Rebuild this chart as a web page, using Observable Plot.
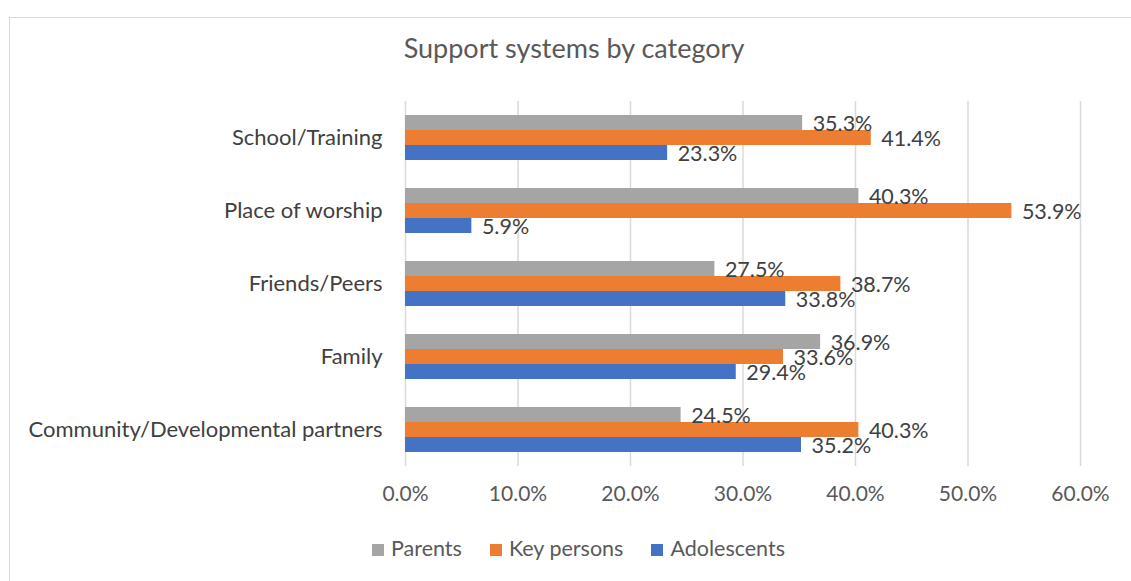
<!DOCTYPE html>
<html>
<head>
<meta charset="utf-8">
<script src="https://cdn.jsdelivr.net/npm/d3@7"></script>
<script src="https://cdn.jsdelivr.net/npm/@observablehq/plot@0.6"></script>
<style>
  html, body { margin: 0; padding: 0; background: #fff; }
  #wrap { position: relative; width: 1131px; height: 581px; overflow: hidden; font-family: Lato, "Open Sans", sans-serif; }
  #frame { position: absolute; left: 9px; top: 17px; width: 1140px; height: 600px; border: 1px solid #d9d9d9; box-sizing: border-box; }
  #title { position: absolute; left: 0; width: 1148px; top: 31px; text-align: center; font-size: 27px; color: #595959; }
  #chart { position: absolute; left: 0; top: 0; }
  #legend { position: absolute; left: 0; width: 1157px; top: 535px; display: flex; justify-content: center; gap: 28px; font-size: 21.5px; color: #595959; }
  #legend span.sw { display: inline-block; width: 12px; height: 12px; margin-right: 7px; vertical-align: middle; position: relative; top: -1px; }
</style>
</head>
<body>
<div id="wrap">
  <div id="frame"></div>
  <div id="title">Support systems by category</div>
  <div id="chart"></div>
  <div id="legend"></div>
</div>
<script>
// Support sources, listed top to bottom
const categories = ["School/Training", "Place of worship", "Friends/Peers", "Family", "Community/Developmental partners"];
// Respondent groups, in bar order within each category
const series = ["Parents", "Key persons", "Adolescents"];
const seriesColors = ["#a5a5a5", "#ed7d31", "#4472c4"];
// Percentages per category
const parents = [35.3, 40.3, 27.5, 36.9, 24.5];
const keyPersons = [41.4, 53.9, 38.7, 33.6, 40.3];
const adolescents = [23.3, 5.9, 33.8, 29.4, 35.2];
const xTicks = [0, 10, 20, 30, 40, 50, 60];

const valuesBySeries = [parents, keyPersons, adolescents];
const data = [];
categories.forEach((c, i) => {
  series.forEach((s, j) => {
    data.push({category: c, series: s, value: valuesBySeries[j][i]});
  });
});

const pct = d => d.toFixed(1) + "%";

const chart = Plot.plot({
  width: 1131,
  height: 520,
  marginTop: 100,
  marginBottom: 54,
  marginLeft: 405,
  marginRight: 51,
  style: {fontFamily: "Lato, 'Open Sans', sans-serif", fontSize: "17px", color: "#595959", background: "transparent"},
  x: {domain: [0, 60]},
  y: {domain: series, axis: null, paddingInner: 0, paddingOuter: 0.9},
  fy: {domain: categories, padding: 0},
  color: {domain: series, range: seriesColors},
  marks: [
    Plot.gridX(xTicks, {stroke: "#d9d9d9", strokeOpacity: 1, strokeWidth: 1.5}),
    Plot.barX(data, {x: "value", y: "series", fy: "category", fill: "series", inset: 0}),
    Plot.text(data, {
      x: "value", y: "series", fy: "category",
      text: d => pct(d.value),
      textAnchor: "start", dx: 10, dy: 1,
      fontSize: 21.5, fill: "#404040"
    }),
    Plot.axisX(xTicks, {tickSize: 0, tickPadding: 20, tickFormat: pct, fontSize: 21, fill: "#595959", label: null}),
    Plot.axisFy({anchor: "left", tickSize: 0, tickPadding: 23, fontSize: 22, fill: "#404040", label: null})
  ]
});
document.getElementById("chart").appendChild(chart);

const legend = document.getElementById("legend");
series.forEach((s, i) => {
  const item = document.createElement("div");
  const sw = document.createElement("span");
  sw.className = "sw";
  sw.style.background = seriesColors[i];
  item.appendChild(sw);
  item.appendChild(document.createTextNode(s));
  legend.appendChild(item);
});
</script>
</body>
</html>
